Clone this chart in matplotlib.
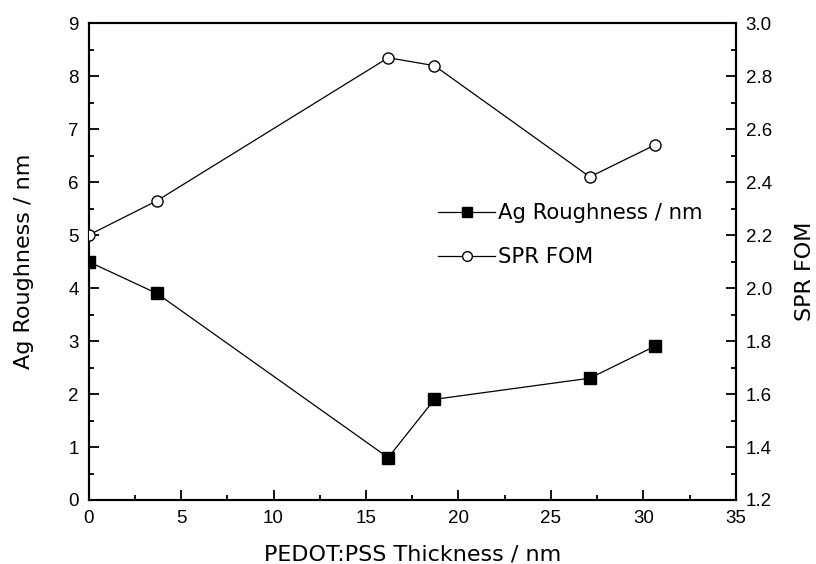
import matplotlib
matplotlib.use("Agg")
import matplotlib.pyplot as plt
from matplotlib.ticker import MultipleLocator, FormatStrFormatter
from matplotlib.lines import Line2D

plt.rcParams['font.family'] = ['Liberation Sans', 'DejaVu Sans']
LABEL_FONT = ['DejaVu Sans']

thickness = [0, 3.7, 16.2, 18.7, 27.1, 30.6]
roughness = [4.5, 3.9, 0.8, 1.9, 2.3, 2.9]
fom = [2.2, 2.33, 2.87, 2.84, 2.42, 2.54]

fig = plt.figure(figsize=(8.16, 5.64), dpi=100)
ax = fig.add_axes([88.5/816, 1-500/564, (736-88.5)/816, (500-23.3)/564])
ax2 = ax.twinx()

ax.plot(thickness, roughness, '-', color='black', lw=0.9, marker='s', ms=8,
        mfc='black', mec='black', zorder=3)
ax2.plot(thickness, fom, '-', color='black', lw=0.9, marker='o', ms=8,
         mfc='white', mec='black', mew=1.0, zorder=3)

ax.set_xlim(0, 35)
ax.set_ylim(0, 9)
ax2.set_ylim(1.2, 3.0)

ax.xaxis.set_major_locator(MultipleLocator(5))
ax.xaxis.set_minor_locator(MultipleLocator(2.5))
ax.yaxis.set_major_locator(MultipleLocator(1))
ax.yaxis.set_minor_locator(MultipleLocator(0.5))
ax2.yaxis.set_major_locator(MultipleLocator(0.2))
ax2.yaxis.set_minor_locator(MultipleLocator(0.1))
ax2.yaxis.set_major_formatter(FormatStrFormatter('%.1f'))

for a in (ax, ax2):
    for s in a.spines.values():
        s.set_linewidth(1.5)
ax.tick_params(which='both', direction='in', top=False, right=False, labelsize=13.5, width=1.3)
ax.tick_params(which='major', length=7, pad=7)
ax.tick_params(which='minor', length=3.5)
ax2.tick_params(which='both', direction='in', labelsize=13.5, width=1.3)
ax2.tick_params(which='major', length=7, pad=7)
ax2.tick_params(which='minor', length=3.5)

ax.set_xlabel('PEDOT:PSS Thickness / nm', fontsize=16, family=LABEL_FONT, va='baseline')
ax.xaxis.set_label_coords(0.5, (500-561)/476.7)
ax.set_ylabel('Ag Roughness / nm', fontsize=16, family=LABEL_FONT, va='center')
ax.yaxis.set_label_coords((24-88.5)/647.5, 0.5)
ax2.set_ylabel('SPR FOM', fontsize=16, family=LABEL_FONT, va='center')
ax2.yaxis.set_label_coords((805-88.5)/647.5, (500-271)/476.7)

handles = [
    Line2D([], [], color='black', lw=0.9, marker='s', ms=7, mfc='black', mec='black'),
    Line2D([], [], color='black', lw=0.9, marker='o', ms=7, mfc='white', mec='black'),
]
ax.legend(handles, ['Ag Roughness / nm', 'SPR FOM'], loc='upper left',
          bbox_to_anchor=((438-88.5)/647.5, (500-203)/476.7), frameon=False,
          prop={'family': LABEL_FONT, 'size': 15.3},
          handlelength=2.7, handletextpad=0.1, labelspacing=1.15,
          borderpad=0, borderaxespad=0)

fig.savefig('out.png', dpi=100)
